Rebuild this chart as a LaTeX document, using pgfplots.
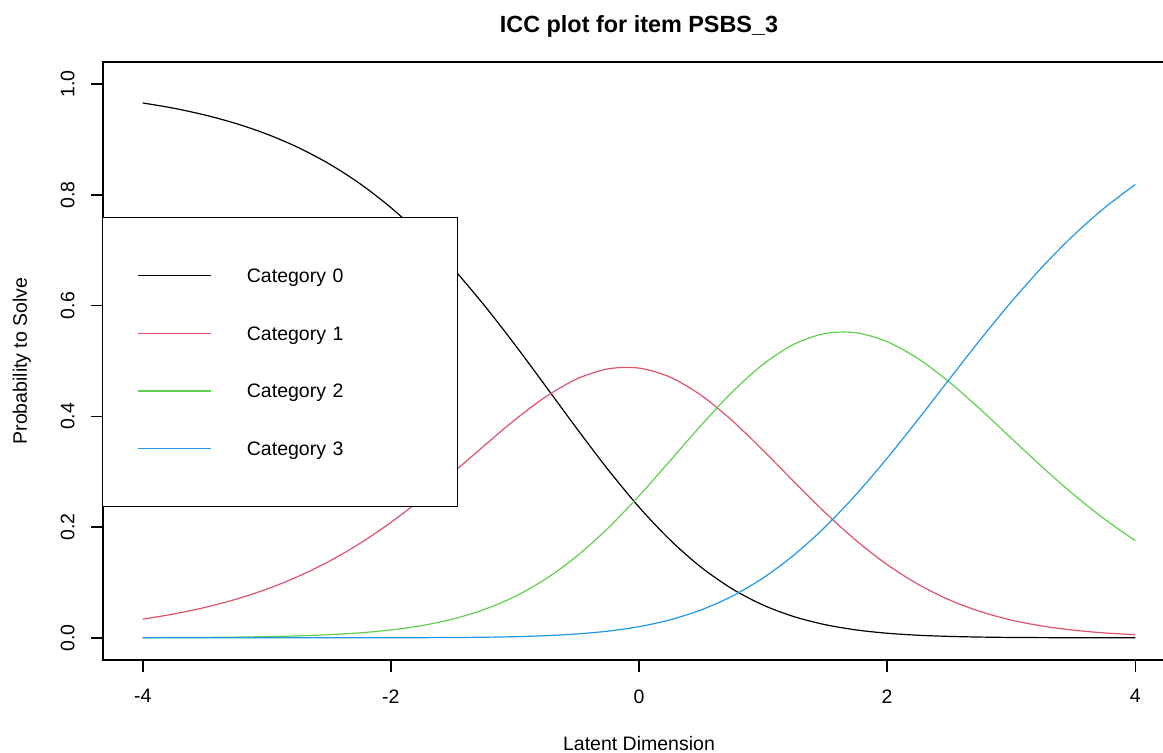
\documentclass[border=0pt]{standalone}
\usepackage{pgfplots}
\pgfplotsset{compat=1.18}
\usepackage{pgfplotstable}
\usepackage{fontspec}
\setmainfont{Liberation Sans}
\definecolor{rblack}{HTML}{000000}
\definecolor{rred}{HTML}{DF536B}
\definecolor{rgreen}{HTML}{61D04F}
\definecolor{rblue}{HTML}{2297E6}
\pgfplotstableread{
x c0 c1 c2 c3
-4.00 0.9660 0.0337 0.0003 0.0000
-3.75 0.9565 0.0431 0.0005 0.0000
-3.50 0.9443 0.0548 0.0008 0.0000
-3.25 0.9290 0.0696 0.0013 0.0000
-3.00 0.9098 0.0880 0.0022 0.0000
-2.75 0.8859 0.1106 0.0035 0.0000
-2.50 0.8564 0.1379 0.0057 0.0000
-2.25 0.8204 0.1705 0.0090 0.0001
-2.00 0.7771 0.2084 0.0143 0.0001
-1.75 0.7262 0.2513 0.0222 0.0003
-1.50 0.6674 0.2981 0.0340 0.0006
-1.25 0.6013 0.3466 0.0510 0.0011
-1.00 0.5294 0.3938 0.0747 0.0021
-0.75 0.4538 0.4356 0.1067 0.0039
-0.50 0.3776 0.4677 0.1478 0.0070
-0.25 0.3040 0.4858 0.1981 0.0121
0.00 0.2362 0.4872 0.2563 0.0202
0.25 0.1769 0.4709 0.3197 0.0325
0.50 0.1276 0.4382 0.3838 0.0504
0.75 0.0886 0.3925 0.4437 0.0752
1.00 0.0592 0.3387 0.4940 0.1081
1.25 0.0382 0.2817 0.5304 0.1497
1.50 0.0238 0.2263 0.5497 0.2003
1.75 0.0143 0.1757 0.5510 0.2590
2.00 0.0083 0.1322 0.5349 0.3245
2.25 0.0047 0.0966 0.5041 0.3946
2.50 0.0026 0.0686 0.4621 0.4668
2.75 0.0014 0.0475 0.4129 0.5383
3.00 0.0007 0.0321 0.3606 0.6066
3.25 0.0004 0.0213 0.3085 0.6698
3.50 0.0002 0.0139 0.2593 0.7266
3.75 0.0001 0.0089 0.2147 0.7763
4.00 0.0000 0.0056 0.1755 0.8188
}\icc
\begin{document}
\begin{tikzpicture}[font=\fontsize{9.75}{11.7}\selectfont]
\useasboundingbox (0pt,0pt) rectangle (581.5pt,376.5pt);
\clip (0pt,0pt) rectangle (581.5pt,376.5pt);
\begin{axis}[
  at={(51.5pt,46.5pt)}, anchor=south west,
  scale only axis, width=536pt, height=299pt,
  xmin=-4.32, xmax=4.32, ymin=-0.04, ymax=1.04,
  axis line style={line width=0.8pt},
  tick style={line width=0.8pt, black},
  tick align=outside, major tick length=6pt,
  tick pos=left,
  xtick={-4,-2,0,2,4}, xticklabels={-4,-2,0,2,4},
  ytick={0,0.2,0.4,0.6,0.8,1.0}, yticklabels={0.0,0.2,0.4,0.6,0.8,1.0},
  xticklabel shift=8.5pt, yticklabel shift=8pt,
  xticklabel style={inner sep=0pt, anchor=north},
  yticklabel style={inner sep=0pt, rotate=90, anchor=south},
  every axis title shift=0pt,
  title={\fontsize{11.7}{14}\selectfont\bfseries ICC plot for item PSBS\_3},
  title style={at={(axis description cs:0.5,1.0485)}, anchor=base, inner sep=0pt},
  xlabel={Latent Dimension},
  xlabel style={at={(axis description cs:0.5,-0.1405)}, anchor=center, inner sep=0pt},
  ylabel={Probability to Solve},
  ylabel style={at={(axis description cs:-0.0757,0.5)}, anchor=center, inner sep=0pt},
  legend cell align=left,
  legend image code/.code={\draw[#1, line width=0.75pt] (0pt,0pt) -- (36.5pt,0pt);},
  legend style={at={(axis description cs:-0.001,0.7405)}, anchor=north west,
    draw=black, line width=0.5pt, fill=white,
    inner xsep=17.5pt, inner ysep=14.55pt, row sep=0pt,
    /tikz/every odd column/.append style={column sep=17.5pt},
    nodes={inner sep=0pt, text width=88pt, minimum height=28.85pt, text depth=0pt, anchor=west}},
  every axis plot/.append style={line width=0.6pt, smooth},
]
\addplot[color=rblack] table[x=x, y=c0] {\icc};
\addplot[color=rred] table[x=x, y=c1] {\icc};
\addplot[color=rgreen] table[x=x, y=c2] {\icc};
\addplot[color=rblue] table[x=x, y=c3] {\icc};
\legend{Category 0, Category 1, Category 2, Category 3}
\end{axis}
\end{tikzpicture}
\end{document}
